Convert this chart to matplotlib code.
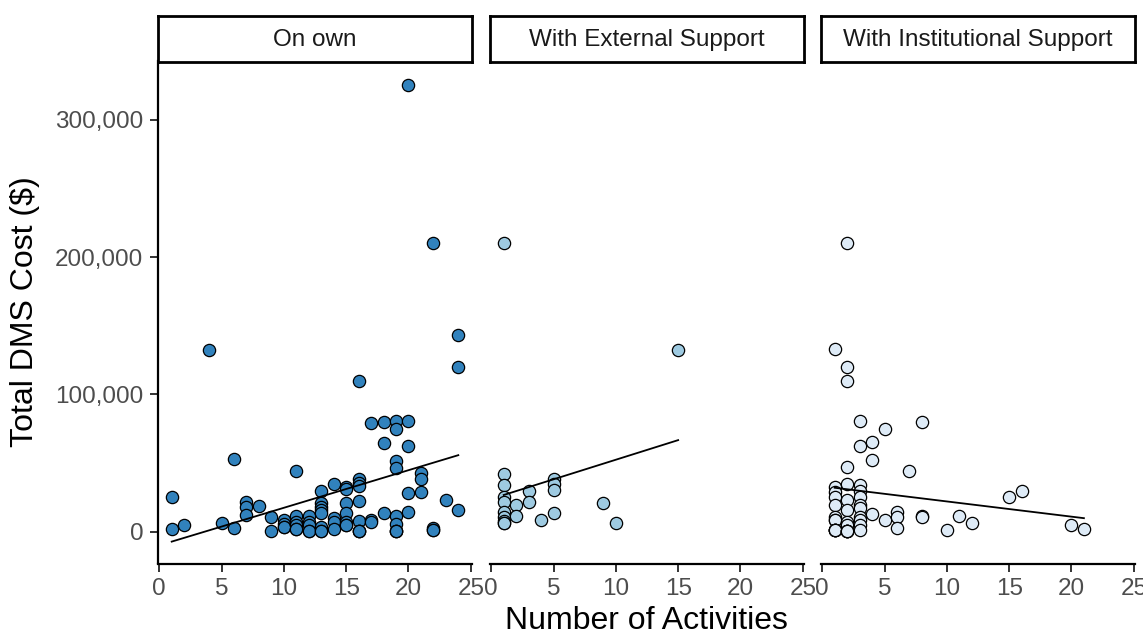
import numpy as np
import matplotlib
matplotlib.use('Agg')
import matplotlib.pyplot as plt
from matplotlib.ticker import FuncFormatter

plt.rcParams['font.family'] = ['Liberation Sans', 'DejaVu Sans']

panels = ['On own', 'With External Support', 'With Institutional Support']
fills = ['#3182BD', '#9ECAE1', '#DEEBF7']

# On own (some points sit exactly on top of others)
own_x = [1, 1, 2, 4, 5, 6, 6, 7, 7, 7, 8, 9, 9, 10, 10, 10, 10,
         11, 11, 11, 11, 11, 11, 12, 12, 12, 12, 12,
         13, 13, 13, 13, 13, 13, 13, 13, 14, 14, 14, 14,
         15, 15, 15, 15, 15, 15, 15, 16, 16, 16, 16, 16, 16, 16, 16, 16,
         17, 17, 17, 18, 18, 18, 19, 19, 19, 19, 19, 19, 19, 19, 19,
         20, 20, 20, 20, 20, 21, 21, 21, 22, 22, 22, 22, 23, 24, 24, 24]
own_y = [25500, 1700, 4900, 132700, 6300, 52800, 2500, 21600, 18200, 12000, 19000, 11000, 600, 8500, 6000, 3500, 3500,
         44000, 11400, 7300, 4900, 1700, 1700, 11400, 7300, 4900, 600, 600,
         29700, 20700, 18000, 15800, 13400, 3600, 700, 700, 34500, 9700, 7300, 1700,
         32800, 30900, 21100, 13400, 7300, 4900, 4900, 110000, 38400, 35300, 33300, 22100, 7800, 700, 700, 700,
         79500, 8500, 7300, 80000, 65000, 13400, 81000, 75000, 51500, 46600, 11400, 6000, 700, 700, 700,
         325000, 81000, 62700, 28400, 14500, 42500, 38200, 28900, 210000, 2500, 1200, 1200, 23000, 143000, 120000, 15800]

# With External Support
ext_x = [1, 1, 1, 1, 1, 1, 1, 1, 1, 1, 2, 2, 3, 3, 4, 5, 5, 5, 5, 9, 10, 15]
ext_y = [210000, 42300, 34300, 25500, 21900, 14600, 10900, 8000, 6600, 6600, 19500, 11700,
         29900, 21900, 8700, 38400, 34500, 30400, 13400, 21200, 6100, 132700]

# With Institutional Support
inst_x = [1, 1, 1, 1, 1, 1, 1, 1, 1, 1, 1, 1, 1,
          2, 2, 2, 2, 2, 2, 2, 2, 2, 2, 2, 2, 2, 2,
          3, 3, 3, 3, 3, 3, 3, 3, 3, 3, 3,
          4, 4, 4, 5, 5, 6, 6, 6, 7, 8, 8, 8, 10, 11, 12, 15, 16, 20, 21]
inst_y = [133000, 32800, 29200, 25500, 19500, 10900, 8500, 8500, 1200, 1200, 1200, 1200, 1200,
          210000, 120000, 110000, 46900, 34500, 23100, 15800, 7300, 4900, 700, 700, 700, 700, 700,
          80900, 62700, 34000, 29900, 25500, 19500, 17000, 10900, 8500, 4900, 1200,
          65400, 52500, 13000, 75100, 8500, 14600, 10900, 2500, 44200, 79700, 11400, 10500,
          1000, 11700, 6100, 25000, 29900, 4900, 1700]

xs = [own_x, ext_x, inst_x]
ys = [own_y, ext_y, inst_y]

fig = plt.figure(figsize=(11.43, 6.37), dpi=100)
W, H = 1143, 637
lefts = [158, 490, 821]
pw = 314
top_px, bot_px = 61, 563.5

for i, name in enumerate(panels):
    ax = fig.add_axes([lefts[i] / W, 1 - bot_px / H, pw / W, (bot_px - top_px) / H])
    x = np.array(xs[i], dtype=float)
    y = np.array(ys[i], dtype=float)
    ax.scatter(x, y, s=78, c=fills[i], edgecolors='black', linewidths=0.9, zorder=3)
    # linear fit per panel
    b, a = np.polyfit(x, y, 1)
    xl = np.array([x.min(), x.max()])
    ax.plot(xl, a + b * xl, color='black', lw=1.3, zorder=4)

    ax.set_xlim(-0.1, 25.1)
    ax.set_ylim(-23100, 342800)
    ax.set_xticks([0, 5, 10, 15, 20, 25])
    ax.set_yticks([0, 100000, 200000, 300000])
    ax.yaxis.set_major_formatter(FuncFormatter(lambda v, p: f'{int(v):,}'))
    for s in ['top', 'right']:
        ax.spines[s].set_visible(False)
    ax.spines['bottom'].set_linewidth(1.6)
    ax.spines['left'].set_linewidth(1.6)
    ax.tick_params(axis='both', length=5.5, width=1.4, color='#333333',
                   labelsize=17.5, labelcolor='#4D4D4D')
    ax.tick_params(axis='y', pad=5)
    ax.tick_params(axis='x', pad=5)
    if i > 0:
        ax.spines['left'].set_visible(False)
        ax.tick_params(axis='y', left=False, labelleft=False)

    # facet strip
    sax = fig.add_axes([lefts[i] / W, 1 - 61.5 / H, pw / W, 46 / H])
    sax.set_xticks([])
    sax.set_yticks([])
    for s in sax.spines.values():
        s.set_linewidth(2)
    sax.text(0.5, 0.47, name, ha='center', va='center', fontsize=17.5, color='#1A1A1A',
             transform=sax.transAxes)

fig.text(25 / W, 1 - 312 / H, 'Total DMS Cost ($)', rotation=90, ha='center', va='center',
         fontsize=23)
fig.text(646 / W, 1 - 621 / H, 'Number of Activities', ha='center', va='center', fontsize=23)

fig.savefig('out.png', dpi=100)
